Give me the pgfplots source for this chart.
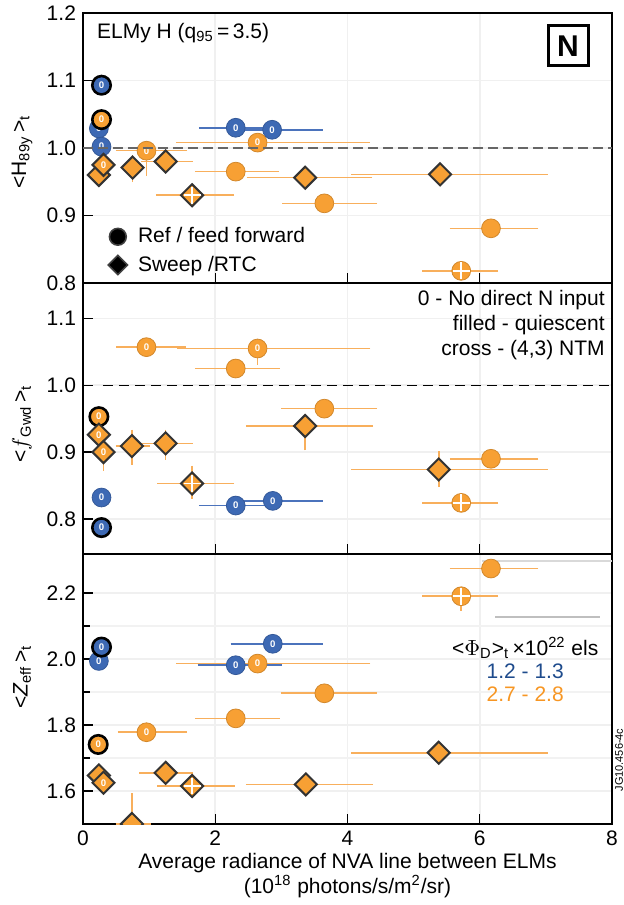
\documentclass[border=0pt]{standalone}
\usepackage{fontspec}
\setmainfont{Liberation Sans}
\usepackage{pgfplots}
\pgfplotsset{compat=1.18}
\usepackage{pgfplotstable}
\definecolor{cblue}{RGB}{61,105,180}
\definecolor{cbluee}{RGB}{75,115,188}
\definecolor{corange}{RGB}{247,160,52}
\definecolor{corangee}{RGB}{248,175,92}
\definecolor{tblue}{RGB}{30,75,140}
\definecolor{torange}{RGB}{247,150,35}

% columns: x, y, x error minus/plus, y error minus/plus, marker class, label "0" (1) or none (0)
% ---------- panel 1 : H89y ----------
\pgfplotstableread{
x y xm xp ym yp c l
0.28 1.093 0 0 0 0 co 1
0.24 1.029 0 0 0 0 cn 1
0.28 1.002 0 0 0 0 cn 1
2.31 1.030 0.49 0.50 0 0 cn 1
2.86 1.027 0.56 0.70 0 0 cn 1
}\PaB
\pgfplotstableread{
x y xm xp ym yp c l
0.28 1.042 0 0 0 0 co 1
0.24 0.960 0 0 0 0 d 0
0.31 0.975 0 0 0 0 d 1
0.96 0.996 0.40 0.55 0.031 0 cn 1
0.75 0.971 0 0 0.015 0.012 d 0
1.25 0.980 0.30 0.35 0 0 d 0
1.65 0.930 0.48 0.57 0 0 d 0
2.64 1.008 1.17 1.63 0 0 cn 1
2.31 0.965 0.55 0.59 0 0 cn 0
3.36 0.956 0.82 0.95 0 0 d 0
5.40 0.961 1.28 1.56 0 0 d 0
3.65 0.918 0.57 0.73 0 0 cn 0
6.17 0.881 0.56 0.65 0 0 cn 0
5.72 0.818 0.52 0.49 0 0 cn 0
}\PaO
\pgfplotstableread{
x y
1.65 0.930
5.72 0.818
}\PaX

% ---------- panel 2 : fGwd ----------
\pgfplotstableread{
x y xm xp ym yp c l
0.28 0.832 0 0 0 0 cn 1
0.28 0.787 0 0 0 0 co 1
2.31 0.820 0.49 0.50 0 0 cn 1
2.87 0.827 0.57 0.69 0 0 cn 1
}\PbB
\pgfplotstableread{
x y xm xp ym yp c l
0.96 1.057 0.39 0.53 0 0 cn 1
2.64 1.055 1.15 1.64 0.018 0 cn 1
2.31 1.025 0.55 0.60 0 0 cn 0
3.65 0.965 0.59 0.73 0 0 cn 0
3.36 0.939 0.83 0.96 0.030 0 d 0
6.17 0.890 0.56 0.65 0 0 cn 0
5.38 0.874 1.26 1.58 0.020 0.021 d 0
5.72 0.824 0.52 0.49 0 0 cn 0
0.24 0.953 0 0 0 0 co 1
0.24 0.926 0 0 0 0 d 1
0.31 0.900 0 0 0.021 0 d 1
0.74 0.909 0.18 0.20 0.021 0.018 d 0
1.25 0.913 0.31 0.34 0.018 0.014 d 0
1.65 0.853 0.46 0.57 0.016 0.020 d 0
}\PbO
\pgfplotstableread{
x y
1.65 0.853
5.72 0.824
}\PbX

% ---------- panel 3 : Zeff ----------
\pgfplotstableread{
x y xm xp ym yp c l
0.24 1.994 0 0 0 0 cn 1
0.28 2.036 0 0 0 0 co 1
2.87 2.046 0.57 0.69 0 0 cn 1
2.31 1.981 0.51 0.63 0 0 cn 1
}\PcB
\pgfplotstableread{
x y xm xp ym yp c l
6.17 2.274 0.56 0.65 0 0 cn 0
5.72 2.190 0.52 0.49 0.030 0 cn 0
2.64 1.986 1.17 1.64 0 0 cn 1
3.65 1.896 0.59 0.73 0 0 cn 0
2.31 1.820 0.55 0.60 0 0 cn 0
0.96 1.778 0.37 0.55 0 0 cn 1
0.23 1.741 0 0 0 0 co 1
5.38 1.716 1.26 1.58 0 0 d 0
1.25 1.655 0.33 0.34 0 0 d 0
0.24 1.647 0 0 0 0 d 0
0.31 1.625 0 0 0 0 d 1
1.65 1.615 0.46 0.58 0 0 d 0
3.37 1.620 0.84 0.95 0 0 d 0
0.74 1.500 0.18 0.22 0.080 0.080 d 0
}\PcO
\pgfplotstableread{
x y
1.65 1.615
5.72 2.190
}\PcX

\pgfplotsset{
  panel/.style={width=264.5pt, scale only axis, anchor=south west,
    xmin=0, xmax=8, xtick={0,2,4,6,8},
    xtick pos=bottom, ytick pos=left, tick align=inside,
    major tick length=5pt, minor tick length=3.5pt,
    tick style={black, line width=0.6pt},
    axis line style={line width=0.8pt},
    grid=major, major grid style={black!6, line width=0.8pt},
    minor grid style={black!5, line width=0.8pt},
    ticklabel style={font=\fontsize{10.5}{11}\selectfont},
    /pgf/number format/assume math mode=true,
    yticklabel style={/pgf/number format/.cd, fixed, fixed zerofill, precision=1},
    clip marker paths=true,
    ylabel style={font=\fontsize{10.5}{11}\selectfont, anchor=center}},
  pts/.style={forget plot, only marks,
    visualization depends on={\thisrow{l}\as\lab},
    scatter, scatter src=explicit symbolic,
    scatter/classes={
      co={mark=*, mark size=4.6pt, fill=#1, draw=black, line width=1.3pt},
      cn={mark=*, mark size=4.7pt, fill=#1, draw=#1!85!black, line width=0.4pt},
      d={mark=square*, mark size=3.9pt, rotate=45, fill=corange, draw=black!80, line width=1pt}},
    nodes near coords*={\ifdim\lab pt>0.5pt 0\fi},
    every node near coord/.style={anchor=center, inner sep=0pt, text=white,
      font=\fontsize{4.8}{5}\selectfont\bfseries}},
  ebar/.style={forget plot, only marks, mark=none, draw=#1,
    error bars/.cd, x dir=both, y dir=both, x explicit, y explicit,
      error bar style={line width=0.8pt, draw=#1, solid},
      error mark options={line width=0.8pt, mark size=2.2pt, draw=#1, solid}},
  crs/.style={forget plot, only marks, mark=+, mark size=4.2pt, draw=white, line width=0.9pt},
  legend image code/.code={\path[draw=none, fill=none] (0cm,0cm) rectangle (0.585cm,0.01cm);
    \draw[#1] plot coordinates {(0.3cm,0cm)};}
}
\pgfkeys{/pgfplots/table/tab/.style={/pgfplots/table/x=x, /pgfplots/table/y=y,
    /pgfplots/table/x error minus=xm, /pgfplots/table/x error plus=xp,
    /pgfplots/table/y error minus=ym, /pgfplots/table/y error plus=yp,
    /pgfplots/table/meta=c}}

\begin{document}
\begin{tikzpicture}
\useasboundingbox (-41.5pt,-40.5pt) rectangle (270.5pt,412pt);

% ================= panel 1 =================
\begin{axis}[panel, at={(0,270.5pt)}, height=135pt,
  ymin=0.8, ymax=1.2, ytick={0.8,0.9,1.0,1.1,1.2}, xticklabels={},
  ylabel={<H\textsubscript{89y}\,>\textsubscript{t}},
  ylabel style={at={(axis description cs:-0.1153,0.485)}},
  legend style={at={(rel axis cs:0.0215,0.119)}, anchor=west, draw=none, fill=none,
    font=\fontsize{10.5}{12}\selectfont, row sep=1pt},
  legend cell align=left]
\addplot[ebar=cbluee] table[tab] {\PaB};
\addplot[ebar=corangee] table[tab] {\PaO};
\addplot[pts=cblue] table[tab] {\PaB};
\addplot[pts=corange] table[tab] {\PaO};
\addplot[crs] table {\PaX};
\addplot[forget plot, draw=black!60, line width=0.8pt, dash pattern=on 5pt off 2.5pt] coordinates {(0,1) (8,1)};
\addlegendimage{only marks, mark=*, mark size=4.2pt, black, mark options={draw=black!75, line width=0.8pt}}
\addlegendentry{Ref / feed forward}
\addlegendimage{only marks, mark=square*, mark size=3.4pt, black, mark options={rotate=45, draw=black!75, line width=0.8pt}}
\addlegendentry{Sweep /RTC}
\node[anchor=west, inner sep=0pt, font=\fontsize{10.5}{11}\selectfont] at (rel axis cs:0.026,0.926)
  {ELMy H (q\textsubscript{95}\,=\,3.5)};
\node[draw, line width=1.5pt, minimum size=20pt, inner sep=0pt, font=\bfseries\fontsize{15}{15}\selectfont]
  at (rel axis cs:0.917,0.878) {N};
\end{axis}

% ================= panel 2 =================
\begin{axis}[panel, at={(0,135pt)}, height=135.5pt,
  ymin=0.7475, ymax=1.153, ytick={0.8,0.9,1.0,1.1}, xticklabels={},
  ylabel={<$f$\textsubscript{Gwd}\,>\textsubscript{t}},
  ylabel style={at={(axis description cs:-0.1153,0.48)}}]
\addplot[forget plot, draw=black, line width=0.7pt, dash pattern=on 5pt off 3pt] coordinates {(0.3,1) (8,1)};
\addplot[ebar=cbluee] table[tab] {\PbB};
\addplot[ebar=corangee] table[tab] {\PbO};
\addplot[pts=cblue] table[tab] {\PbB};
\addplot[pts=corange] table[tab] {\PbO};
\addplot[crs] table {\PbX};
\node[anchor=north east, inner sep=0pt, align=right, font=\fontsize{10.5}{12.5}\selectfont]
  at (rel axis cs:0.987,0.974) {0 - No direct N input\\filled - quiescent\\cross - (4,3) NTM};
\end{axis}

% ================= panel 3 =================
\begin{axis}[panel, at={(0,0)}, height=135pt,
  ymin=1.5, ymax=2.318, ytick={1.6,1.8,2.0,2.2}, minor ytick={1.7,1.9,2.1}, grid=both,
  ylabel={<\textit{Z}\textsubscript{eff}\,>\textsubscript{t}},
  ylabel style={at={(axis description cs:-0.1153,0.544)}},
  xlabel={Average radiance of NVA line between ELMs\\(10\textsuperscript{18} photons/s/m\textsuperscript{2}/sr)},
  xlabel style={at={(axis description cs:0.5,-0.1907)}, anchor=center, align=center,
    font=\fontsize{10.5}{12.5}\selectfont},
  xticklabel style={/pgf/number format/.cd, fixed, precision=0}]
\draw[black!15, line width=0.6pt] (rel axis cs:0.754,0.974) -- (rel axis cs:1,0.974);
\draw[black!25, line width=0.6pt] (rel axis cs:0.779,0.767) -- (rel axis cs:0.977,0.767);
\addplot[ebar=cbluee] table[tab] {\PcB};
\addplot[ebar=corangee] table[tab] {\PcO};
\addplot[pts=cblue] table[tab] {\PcB};
\addplot[pts=corange] table[tab] {\PcO};
\addplot[crs] table {\PcX};
\node[align=center, inner sep=0pt, font=\fontsize{10.5}{11.5}\selectfont]
  at (rel axis cs:0.836,0.574)
  {<$\Phi$\textsubscript{D}>\textsubscript{t}\,×10\textsuperscript{22} els\\
   \textcolor{tblue}{1.2 - 1.3}\\ \textcolor{torange}{2.7 - 2.8}};
\end{axis}

\node[rotate=90, inner sep=0pt, font=\fontsize{5.5}{6}\selectfont] at (268pt,32pt) {JG10.456-4c};
\end{tikzpicture}
\end{document}
